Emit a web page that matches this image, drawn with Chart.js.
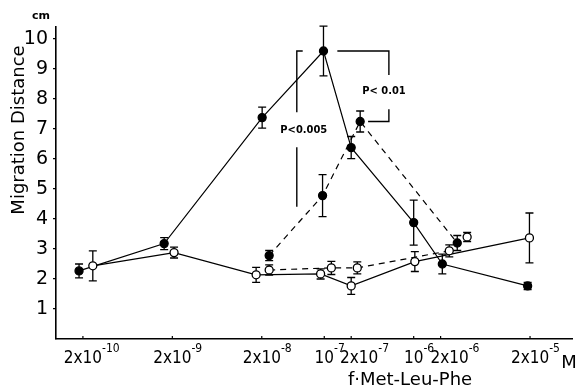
<!DOCTYPE html>
<html>
<head>
<meta charset="utf-8">
<script src="https://cdn.jsdelivr.net/npm/chart.js@4.4.1/dist/chart.umd.min.js"></script>
<style>
    html, body { margin: 0; padding: 0; background: #fff; }
</style>
</head>
<body>
<canvas id="graphique-migration" width="578" height="391"></canvas>
<script>
// Données (concentration en M, distance en cm, erreur +/-)
// points pleins, trait continu
const concPleinsTrait = [1.81e-10, 1.62e-9, 2.02e-8, 9.8e-8, 2.0e-7, 1.0e-6, 2.09e-6, 1.88e-5];
const distPleinsTrait = [2.27, 3.18, 7.38, 9.6, 6.38, 3.88, 2.5, 1.77];
const errPleinsTrait = [0.23, 0.2, 0.35, 0.83, 0.37, 0.75, 0.33, 0.12];
// points pleins, tirets
const concPleinsTiret = [2.42e-8, 9.57e-8, 2.52e-7, 3.07e-6];
const distPleinsTiret = [2.78, 4.78, 7.25, 3.2];
const errPleinsTiret = [0.17, 0.7, 0.35, 0.25];
// points vides, trait continu
const concVidesTrait = [2.58e-10, 2.09e-9, 1.73e-8, 9.1e-8, 2.0e-7, 1.03e-6, 1.97e-5];
const distVidesTrait = [2.44, 2.88, 2.14, 2.17, 1.77, 2.58, 3.37];
const errVidesTrait = [0.5, 0.18, 0.25, 0.17, 0.28, 0.33, 0.83];
// points vides, tirets
const concVidesTiret = [2.42e-8, 1.2e-7, 2.34e-7, 2.5e-6];
const distVidesTiret = [2.3, 2.37, 2.37, 2.94];
const errVidesTiret = [0.17, 0.22, 0.2, 0.2];
// point vide isolé
const concVideSeul = [3.96e-6];
const distVideSeul = [3.4];
const errVideSeul = [0.15];

// graduations
const xTicks = [2e-10, 2e-9, 2e-8, 1e-7, 2e-7, 1e-6, 2e-6, 2e-5];
const xTickBases = ["2x10", "2x10", "2x10", "10", "2x10", "10", "2x10", "2x10"];
const xTickExposants = ["-10", "-9", "-8", "-7", "-7", "-6", "-6", "-5"];
const yTicks = [1, 2, 3, 4, 5, 6, 7, 8, 9, 10];

// crochets de significativité (en unités des axes)
const crochet005 = [[5.74e-8, 9.6], [4.93e-8, 9.6], [4.93e-8, 7.56]];
const crochet005Bas = [[4.93e-8, 6.39], [4.93e-8, 4.41]];
const texte005 = [5.9e-8, 6.96];
const crochet001 = [[1.4e-7, 9.6], [5.28e-7, 9.6], [5.28e-7, 8.8]];
const crochet001Bas = [[5.28e-7, 7.66], [5.28e-7, 7.25], [3.09e-7, 7.25]];
const texte001 = [4.65e-7, 8.26];

const police = "'DejaVu Sans', sans-serif";
const policeEtroite = "'DejaVu Sans Condensed', 'DejaVu Sans', sans-serif";

function points(conc, dist) {
    return conc.map((c, i) => ({ x: c, y: dist[i] }));
}

function serie(conc, dist, err, plein, tiret, ligne) {
    return {
        data: points(conc, dist),
        erreurs: err,
        showLine: ligne,
        borderColor: "#000",
        borderWidth: 1.2,
        borderDash: tiret ? [6, 5] : [],
        pointRadius: 4,
        pointBorderWidth: 1.3,
        pointBorderColor: "#000",
        pointBackgroundColor: plein ? "#000" : "#fff",
        tension: 0,
    };
}

// barres d'erreur, axes et textes
const pluginFigure = {
    id: "figure",
    beforeDatasetsDraw(chart) {
        const ctx = chart.ctx;
        const y = chart.scales.y;
        ctx.save();
        ctx.strokeStyle = "#000";
        ctx.lineWidth = 1.3;
        chart.data.datasets.forEach((ds, i) => {
            const meta = chart.getDatasetMeta(i);
            ds.erreurs.forEach((e, j) => {
                const px = meta.data[j].x;
                const haut = y.getPixelForValue(ds.data[j].y + e);
                const bas = y.getPixelForValue(ds.data[j].y - e);
                ctx.beginPath();
                ctx.moveTo(px, haut);
                ctx.lineTo(px, bas);
                ctx.moveTo(px - 4, haut);
                ctx.lineTo(px + 4, haut);
                ctx.moveTo(px - 4, bas);
                ctx.lineTo(px + 4, bas);
                ctx.stroke();
            });
        });
        ctx.restore();
    },
    afterDraw(chart) {
        const ctx = chart.ctx;
        const x = chart.scales.x;
        const y = chart.scales.y;
        const bas = chart.chartArea.bottom;
        ctx.save();
        ctx.fillStyle = "#000";
        ctx.strokeStyle = "#000";

        // petites graduations de l'axe x, vers l'intérieur
        ctx.lineWidth = 1.2;
        xTicks.forEach(v => {
            const px = x.getPixelForValue(v);
            ctx.beginPath();
            ctx.moveTo(px, bas);
            ctx.lineTo(px, bas - 3);
            ctx.stroke();
        });

        // étiquettes de l'axe x avec exposants
        const decalages = [0, 0, 0, 0, 8, 0, 9, 0];
        xTicks.forEach((v, i) => {
            ctx.font = "17px " + policeEtroite;
            const base = xTickBases[i];
            const largeur = ctx.measureText(base).width;
            const centre = x.getPixelForValue(v) + decalages[i];
            ctx.textAlign = "left";
            ctx.textBaseline = "alphabetic";
            ctx.fillText(base, centre - largeur / 2, bas + 24);
            ctx.font = "12px " + policeEtroite;
            ctx.fillText(xTickExposants[i], centre + largeur / 2, bas + 13);
        });

        // titres
        ctx.textAlign = "center";
        ctx.textBaseline = "middle";
        ctx.font = "18px " + police;
        ctx.fillText("f\u00b7Met-Leu-Phe", 410, 380);
        ctx.fillText("M", 569, 363);
        ctx.font = "bold 11px " + police;
        ctx.fillText("cm", 41, 16);
        ctx.save();
        ctx.translate(19, 130);
        ctx.rotate(-Math.PI / 2);
        ctx.font = "18px " + police;
        ctx.fillText("Migration Distance", 0, 0);
        ctx.restore();

        // crochets P<0.005 et P<0.01
        ctx.lineWidth = 1.4;
        [crochet005, crochet005Bas, crochet001, crochet001Bas].forEach(trace => {
            ctx.beginPath();
            trace.forEach((p, k) => {
                const px = x.getPixelForValue(p[0]);
                const py = y.getPixelForValue(p[1]);
                if (k === 0) ctx.moveTo(px, py);
                else ctx.lineTo(px, py);
            });
            ctx.stroke();
        });
        ctx.font = "bold 11px " + policeEtroite;
        ctx.fillText("P<0.005", x.getPixelForValue(texte005[0]), y.getPixelForValue(texte005[1]));
        ctx.fillText("P< 0.01", x.getPixelForValue(texte001[0]), y.getPixelForValue(texte001[1]));
        ctx.restore();
    },
};

const config = {
    type: "line",
    data: {
        datasets: [
            serie(concVideSeul, distVideSeul, errVideSeul, false, false, false),
            serie(concVidesTiret, distVidesTiret, errVidesTiret, false, true, true),
            serie(concVidesTrait, distVidesTrait, errVidesTrait, false, false, true),
            serie(concPleinsTiret, distPleinsTiret, errPleinsTiret, true, true, true),
            serie(concPleinsTrait, distPleinsTrait, errPleinsTrait, true, false, true),
        ],
    },
    options: {
        responsive: false,
        animation: false,
        devicePixelRatio: 1,
        layout: { padding: { top: 27, right: 0, left: 0, bottom: 0 } },
        plugins: {
            legend: { display: false },
            tooltip: { enabled: false },
        },
        scales: {
            x: {
                type: "logarithmic",
                min: 1e-10,
                max: 6e-5,
                grid: { display: false },
                border: { color: "#000", width: 1.6 },
                ticks: { display: false },
                afterBuildTicks: scale => {
                    scale.ticks = xTicks.map(v => ({ value: v }));
                },
                afterFit: scale => {
                    scale.height = 52;
                },
            },
            y: {
                min: 0,
                max: 10.4,
                grid: {
                    drawOnChartArea: false,
                    drawTicks: true,
                    tickLength: 3,
                    color: "#000",
                    lineWidth: 1.2,
                },
                border: { color: "#000", width: 1.6 },
                ticks: {
                    color: "#000",
                    padding: 5,
                    font: { family: police, size: 19 },
                },
                afterBuildTicks: scale => {
                    scale.ticks = yTicks.map(v => ({ value: v }));
                },
                afterFit: scale => {
                    scale.width = 56;
                },
            },
        },
    },
    plugins: [pluginFigure],
};

new Chart(document.querySelector("#graphique-migration"), config);
</script>
</body>
</html>
